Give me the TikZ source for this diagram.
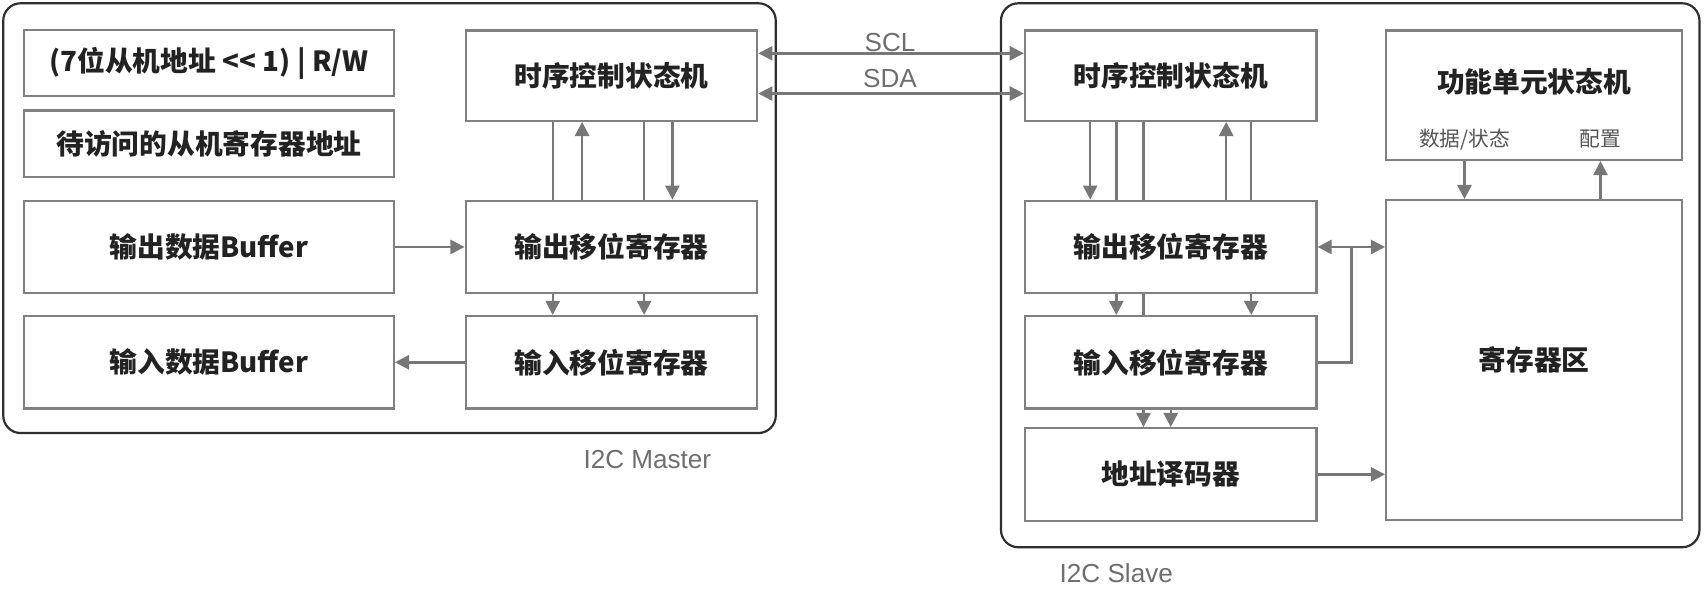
\documentclass[tikz,border=0pt]{standalone}
\usepackage{fontspec}
\setmainfont{Noto Sans CJK SC}
\newfontfamily\latinfont{Liberation Sans}
\usetikzlibrary{arrows.meta}
\definecolor{boxc}{HTML}{808080}
\definecolor{linec}{HTML}{777777}
\definecolor{outc}{HTML}{2E2E2E}
\definecolor{labc}{HTML}{6E6E6E}
\definecolor{smallc}{HTML}{555555}
\definecolor{textc}{HTML}{222222}
\begin{document}
\begin{tikzpicture}[x=1pt,y=-1pt,
  box/.style={draw=boxc, line width=2pt, inner sep=0pt, text=textc, font=\bfseries\fontsize{25.5}{30}\selectfont},
  txt/.style={inner sep=0pt, text=textc, font=\bfseries\fontsize{25.5}{30}\selectfont},
  outer/.style={draw=outc, line width=2pt, rounded corners=16pt, inner sep=0pt},
  lab/.style={inner sep=0pt, text=labc, font=\latinfont\fontsize{24}{28}\selectfont},
  small/.style={inner sep=0pt, text=smallc, font=\fontsize{19}{22}\selectfont},
  ln/.style={draw=linec, line width=2.2pt},
  arr/.style={draw=linec, line width=2.2pt, -{Triangle[length=13pt,width=13pt]}},
  darr/.style={draw=linec, line width=2.2pt, {Triangle[length=13pt,width=13pt]}-{Triangle[length=13pt,width=13pt]}}
]
\useasboundingbox (0,0) rectangle (1568,551);

% ---------- Master ----------
\node[outer, minimum width=710, minimum height=395] (master) at (358,200.5) {};
\node[lab] (mlab) at (595,422) {I2C Master};

\node[box, minimum width=340, minimum height=61] (addr) at (192,58) {(7位从机地址 <{}< 1) | R/W};
\node[box, minimum width=340, minimum height=61] (regaddr) at (192,132) {待访问的从机寄存器地址};
\node[box, minimum width=340, minimum height=85] (obuf) at (192,227) {输出数据Buffer};
\node[box, minimum width=340, minimum height=85] (ibuf) at (192,333) {输入数据Buffer};

\node[box, minimum width=268, minimum height=83] (mt) at (562,69.5) {时序控制状态机};
\node[box, minimum width=268, minimum height=85] (mo) at (562,227) {输出移位寄存器};
\node[box, minimum width=268, minimum height=85] (mi) at (562,333) {输入移位寄存器};

\coordinate (mx1) at (508,0);
\coordinate (mx2) at (535,0);
\coordinate (mx3) at (592,0);
\coordinate (mx4) at (618,0);
\draw[ln]  (mt.south -| mx1) -- (mo.north -| mx1);
\draw[arr] (mo.north -| mx2) -- (mt.south -| mx2);
\draw[ln]  (mt.south -| mx3) -- (mo.north -| mx3);
\draw[arr] (mt.south -| mx4) -- (mo.north -| mx4);
\draw[arr] (mo.south -| mx1) -- (mi.north -| mx1);
\draw[arr] (mo.south -| mx3) -- (mi.north -| mx3);
\draw[arr] (obuf.east) -- (mo.west);
\draw[arr] (mi.west) -- (ibuf.east);

% ---------- Slave ----------
\node[outer, minimum width=642, minimum height=500] (slave) at (1241,253) {};
\node[lab] (slab) at (1026,527) {I2C Slave};

\node[box, minimum width=268, minimum height=83] (st) at (1076,69.5) {时序控制状态机};
\node[box, minimum width=268, minimum height=85] (so) at (1076,227) {输出移位寄存器};
\node[box, minimum width=268, minimum height=85] (si) at (1076,333) {输入移位寄存器};
\node[box, minimum width=268, minimum height=85] (sd) at (1076,436) {地址译码器};
\node[box, minimum width=272, minimum height=119] (fu) at (1410,87.5) {};
\node[txt] (futxt) at (1410,75) {功能单元状态机};
\node[box, minimum width=272, minimum height=294] (rg) at (1410,331) {寄存器区};
\node[small] (fdata) at (1346,128) {数据/状态};
\node[small] (fcfg) at (1471,128) {配置};

\coordinate (sx1) at (1002,0);
\coordinate (sx2) at (1026,0);
\coordinate (sx3) at (1051,0);
\coordinate (sx4) at (1127,0);
\coordinate (sx5) at (1150,0);
\coordinate (sx6) at (1076,0);
\draw[arr] (st.south -| sx1) -- (so.north -| sx1);
\draw[ln]  (st.south -| sx2) -- (so.north -| sx2);
\draw[ln]  (st.south -| sx3) -- (so.north -| sx3);
\draw[arr] (so.north -| sx4) -- (st.south -| sx4);
\draw[ln]  (st.south -| sx5) -- (so.north -| sx5);
\draw[arr] (so.south -| sx2) -- (si.north -| sx2);
\draw[ln]  (so.south -| sx3) -- (si.north -| sx3);
\draw[arr] (so.south -| sx5) -- (si.north -| sx5);
\draw[arr] (si.south -| sx3) -- (sd.north -| sx3);
\draw[arr] (si.south -| sx6) -- (sd.north -| sx6);

\coordinate (jx) at (1242,0);
\draw[darr] (so.east) -- (rg.west |- so.east);
\draw[ln] (si.east) -- (si.east -| jx) -- (so.east -| jx);
\draw[arr] (sd.east) -- (rg.west |- sd.east);

\coordinate (fx1) at (1346,0);
\coordinate (fx2) at (1471,0);
\draw[arr] (fu.south -| fx1) -- (rg.north -| fx1);
\draw[arr] (rg.north -| fx2) -- (fu.south -| fx2);

% ---------- Bus ----------
\coordinate (scly) at (0,49);
\coordinate (sday) at (0,86);
\draw[darr] (mt.east |- scly) -- (st.west |- scly);
\draw[darr] (mt.east |- sday) -- (st.west |- sday);
\node[lab] (scl) at (818,39) {SCL};
\node[lab] (sda) at (818,72) {SDA};
\end{tikzpicture}
\end{document}
